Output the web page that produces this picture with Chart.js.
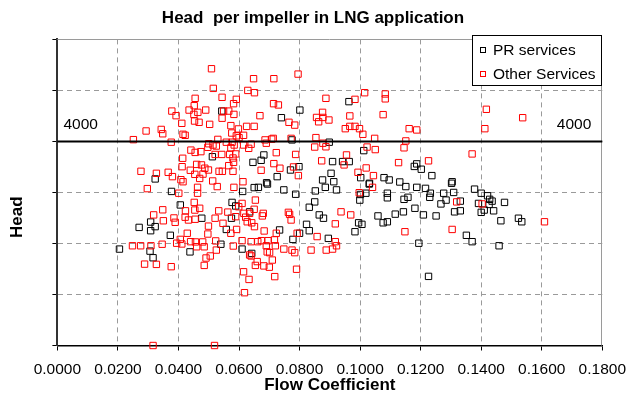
<!DOCTYPE html>
<html>
<head>
<meta charset="utf-8">
<script src="https://cdn.jsdelivr.net/npm/chart.js@4.4.0/dist/chart.umd.min.js"></script>
<style>
  html, body { margin: 0; padding: 0; background: #fff; }
  #wrap { width: 626px; height: 395px; }
</style>
</head>
<body>
<div id="wrap"><canvas id="chart" width="626" height="395"></canvas></div>
<script>
// PR services: flow coefficient / head per impeller
const prX = [
  0.0543, 0.0740, 0.0801, 0.0775, 0.0898, 0.0512, 0.0682, 0.0673, 0.0646, 0.0909,
  0.0770, 0.0798, 0.0726, 0.0323, 0.0691, 0.0876, 0.0885,
  0.0963, 0.1012, 0.0942, 0.0964, 0.0904, 0.1002, 0.0913, 0.1187, 0.1179, 0.1202,
  0.1237, 0.1079, 0.1096, 0.1131, 0.1031, 0.1304,
  0.0377, 0.0612, 0.0650, 0.0664, 0.0694, 0.0748, 0.0787, 0.0852, 0.0850, 0.0832,
  0.0865, 0.0879, 0.0406, 0.0308, 0.0323, 0.0308, 0.0270, 0.0373, 0.0477, 0.0577,
  0.0589, 0.0635, 0.0575, 0.0558, 0.0540, 0.0734, 0.0778, 0.0823, 0.0832, 0.0895,
  0.0205, 0.0306, 0.0316, 0.0438, 0.0610, 0.0642, 0.0800,
  0.0922, 0.1030, 0.1001, 0.1019, 0.0999, 0.1090, 0.1090, 0.1151, 0.1187, 0.1216,
  0.1232, 0.1230, 0.1145, 0.1158, 0.1276, 0.1284, 0.1302, 0.1309, 0.1267, 0.1181,
  0.1209, 0.1251, 0.1143, 0.1116, 0.1059, 0.1090, 0.1076, 0.0995, 0.1006, 0.0983,
  0.1194, 0.1226, 0.1378, 0.1400, 0.1421, 0.1428, 0.1436, 0.1391, 0.1426, 0.1477,
  0.1331, 0.1331, 0.1312, 0.1410, 0.1400, 0.1441, 0.1465, 0.1523, 0.1534, 0.1351,
  0.1370, 0.1459
];
const prY = [
  4595, 4465, 4615, 4030, 3985, 3700, 3735, 3630, 3590, 3605,
  3440, 3505, 3310, 3265, 3190, 3245, 3100,
  4780, 3820, 3605, 3605, 3375, 3290, 3210, 3560, 3510, 3455,
  3330, 3290, 3245, 3205, 3180, 3210,
  3020, 3020, 3095, 3100, 3165, 3050, 2965, 3030, 2815, 2710,
  2560, 2495, 2755, 2420, 2330, 2250, 2315, 2160, 2495, 2805,
  2735, 2620, 2495, 2275, 1985, 2265, 2080, 2375, 2250, 2100,
  1890, 1850, 1720, 1835, 1890, 1805, 2200,
  3050, 3165, 2960, 2985, 2850, 2985, 2895, 3115, 3100, 3080,
  2985, 2905, 2865, 2905, 2985, 2850, 3180, 3000, 2775, 2690,
  2560, 2540, 2620, 2575, 2540, 2425, 2405, 2405, 2375, 2230,
  2005, 1355, 3065, 2985, 2935, 2865, 2830, 2785, 2765, 2805,
  2830, 2640, 2620, 2655, 2610, 2640, 2445, 2495, 2425, 2160,
  2035, 1955
];

// Other services
const otherX = [
  0.0509, 0.0648, 0.0715, 0.0795, 0.0515, 0.0629, 0.0651, 0.0455, 0.0544, 0.0591,
  0.0714, 0.0730, 0.0887, 0.0452, 0.0582, 0.0378, 0.0392, 0.0435, 0.0451, 0.0464,
  0.0490, 0.0549, 0.0566, 0.0583, 0.0669, 0.0765, 0.0784, 0.0856, 0.0876, 0.0863,
  0.0897, 0.0877, 0.0411, 0.0453, 0.0468, 0.0503, 0.0544, 0.0573, 0.0598, 0.0625,
  0.0650, 0.0293, 0.0343, 0.0348, 0.0415, 0.0422, 0.0576, 0.0591, 0.0615, 0.0600,
  0.0251, 0.0376, 0.0530, 0.0500, 0.0514, 0.0525, 0.0558, 0.0577, 0.0584, 0.0615,
  0.0640, 0.0632, 0.0686, 0.0708, 0.0713, 0.0690, 0.0772, 0.0854, 0.0877, 0.0850,
  0.0887, 0.0441, 0.0455, 0.0474, 0.0497, 0.0521, 0.0543, 0.0569, 0.0589, 0.0573,
  0.0580, 0.0582, 0.0723, 0.0787, 0.0873, 0.0414, 0.0412, 0.0460, 0.0476, 0.0487,
  0.0439, 0.0454, 0.0481, 0.0499, 0.0534, 0.0545, 0.0580, 0.0566, 0.0673, 0.0715,
  0.0735, 0.0780, 0.0796, 0.0276, 0.0327, 0.0366, 0.0380, 0.0408, 0.0415, 0.0470,
  0.0513, 0.0613,
  0.1015, 0.1083, 0.1083, 0.0983, 0.0966, 0.1076, 0.1417, 0.1537, 0.1412, 0.0951,
  0.0966, 0.0983, 0.0998, 0.1009, 0.1162, 0.1187, 0.1048, 0.1151, 0.1145, 0.1023,
  0.1050, 0.0955, 0.0947, 0.1370, 0.1127, 0.1226, 0.1020, 0.0993, 0.1044,
  0.0297, 0.0463, 0.0463, 0.0528, 0.0583, 0.0401, 0.0318, 0.0348, 0.0350, 0.0385,
  0.0389, 0.0423, 0.0422, 0.0433, 0.0455, 0.0452, 0.0470, 0.0454, 0.0499, 0.0497,
  0.0429, 0.0533, 0.0521, 0.0563, 0.0547, 0.0592, 0.0573, 0.0589, 0.0610, 0.0599,
  0.0616, 0.0622, 0.0635, 0.0650, 0.0654, 0.0627, 0.0642, 0.0651, 0.0680, 0.0677,
  0.0683, 0.0763, 0.0767, 0.0772, 0.0723, 0.0792, 0.0858, 0.0248, 0.0275, 0.0309,
  0.0346, 0.0394, 0.0406, 0.0411, 0.0440, 0.0456, 0.0480, 0.0460, 0.0485, 0.0523,
  0.0525, 0.0505, 0.0491, 0.0485, 0.0581, 0.0610, 0.0640, 0.0662, 0.0674, 0.0696,
  0.0717, 0.0690, 0.0720, 0.0748, 0.0775, 0.0784, 0.0838, 0.0888, 0.0909, 0.0635,
  0.0640, 0.0693, 0.0701, 0.0710, 0.0654, 0.0660, 0.0682, 0.0700, 0.0718, 0.0615,
  0.0633, 0.0618, 0.0790, 0.0288, 0.0327, 0.0376,
  0.0997, 0.1041, 0.0937, 0.0969, 0.0918, 0.0918, 0.0922, 0.1148, 0.1304, 0.1319,
  0.1403, 0.1609,
  0.0316, 0.0519
];
const otherY = [
  5425, 5230, 5230, 5320, 5040, 5000, 4955, 4845, 4865, 4825,
  4740, 4715, 4845, 4700, 4740, 4595, 4505, 4615, 4530, 4570,
  4615, 4595, 4595, 4530, 4505, 4375, 4320, 4470, 4570, 4385,
  4420, 4470, 4355, 4400, 4375, 4335, 4455, 4310, 4245, 4295,
  4295, 4205, 4235, 4150, 4140, 4120, 4165, 4110, 4120, 4075,
  4035, 3985, 4040, 3955, 3930, 3910, 3985, 3985, 3930, 3930,
  3945, 3865, 4030, 4045, 4060, 3965, 4060, 4075, 3965, 3890,
  3895, 3830, 3785, 3800, 3885, 3745, 3745, 3745, 3755, 3875,
  3675, 3590, 3780, 3745, 3620, 3670, 3505, 3550, 3540, 3475,
  3435, 3355, 3360, 3440, 3415, 3415, 3415, 3525, 3435, 3565,
  3475, 3500, 3330, 3415, 3375, 3395, 3310, 3250, 3210, 3275,
  3225, 3210,
  4955, 4930, 4835, 4825, 4500, 4525, 4630, 4465, 4250, 4250,
  4295, 4295, 4250, 4140, 4250, 4225, 4060, 4010, 3875, 3890,
  3840, 3735, 3540, 3755, 3585, 3620, 3480, 3395, 3330,
  3075, 3100, 2985, 3115, 3100, 2985, 2560, 2660, 2445, 2500,
  2415, 2640, 2515, 2460, 2475, 2805, 2690, 2655, 2340, 2185,
  2200, 2640, 2495, 2615, 2395, 2275, 2200, 2525, 2785, 2720,
  2590, 2515, 2590, 2670, 2850, 2425, 2405, 2330, 2590, 2540,
  2245, 2610, 2570, 2460, 2200, 2200, 2135, 1955, 1955, 1955,
  1985, 2005, 2080, 1990, 2035, 2030, 2030, 1935, 1935, 2050,
  1870, 1755, 1715, 1570, 1950, 2055, 2035, 2035, 2055, 2055,
  2070, 1955, 1955, 1890, 1870, 1820, 1870, 1870, 1890, 1775,
  1755, 1835, 1820, 1675, 1570, 1645, 1560, 1535, 1350, 1445,
  1295, 1035, 1495, 1595, 1590, 1545,
  2995, 3100, 2620, 2560, 2385, 2035, 1955, 2230, 2275, 2815,
  2775, 2425,
  0, 0
];

const xMin = 0, xMax = 0.18, xStep = 0.02;
const yMin = 0, yMax = 6000, yStep = 1000;
const headLimit = 4000;
const seriesLabels = ["PR services", "Other Services"];
const seriesColors = ["#000000", "#ff0000"];
const yTitle = "Head";

const toPoints = (xs, ys) => xs.map((x, i) => ({ x: x, y: ys[i] }));

const FONT = "'Liberation Sans', Arial, sans-serif";
const gridGray = "#9a9a9a";

// solid grey top/right frame (the dashed grid stops short of these)
const framePlugin = {
  id: "frame",
  beforeDatasetsDraw(chart) {
    const { ctx, chartArea: a } = chart;
    ctx.save();
    ctx.strokeStyle = gridGray;
    ctx.lineWidth = 1;
    ctx.beginPath();
    ctx.moveTo(a.left, Math.round(a.top) + 0.5);
    ctx.lineTo(Math.round(a.right) - 0.5, Math.round(a.top) + 0.5);
    ctx.lineTo(Math.round(a.right) - 0.5, a.bottom);
    ctx.stroke();
    ctx.restore();
  }
};

// horizontal limit line with its value written at both ends
const limitPlugin = {
  id: "limitLine",
  afterDatasetsDraw(chart) {
    const { ctx, chartArea: a, scales } = chart;
    const y = scales.y.getPixelForValue(headLimit);
    ctx.save();
    ctx.strokeStyle = "#000";
    ctx.lineWidth = 2;
    ctx.beginPath();
    ctx.moveTo(a.left, y);
    ctx.lineTo(a.right, y);
    ctx.stroke();
    ctx.fillStyle = "#000";
    ctx.font = "15.5px " + FONT;
    ctx.textBaseline = "alphabetic";
    ctx.textAlign = "left";
    ctx.fillText(String(headLimit), a.left + 6, y - 12);
    ctx.textAlign = "right";
    ctx.fillText(String(headLimit), a.right - 11, y - 12);
    ctx.restore();
  }
};

// rotated y title, centred on the plot block (area + tick labels) rather than the area alone;
// the scale keeps an invisible title so its width is still reserved
const yTitlePlugin = {
  id: "yTitle",
  afterDraw(chart) {
    const { ctx, chartArea: a } = chart;
    ctx.save();
    ctx.translate(17, (a.top + chart.height) / 2);
    ctx.rotate(-Math.PI / 2);
    ctx.fillStyle = "#000";
    ctx.font = "bold 17px " + FONT;
    ctx.textAlign = "center";
    ctx.textBaseline = "middle";
    ctx.fillText(yTitle, 0, 0);
    ctx.restore();
  }
};

// boxed legend sitting over the top-right corner of the plot
const boxLegend = {
  id: "boxLegend",
  afterDraw(chart) {
    const { ctx, chartArea: a } = chart;
    const w = 130, h = 51;
    const x0 = Math.round(a.right) - w, y0 = Math.round(a.top) - 4;
    ctx.save();
    ctx.fillStyle = "#fff";
    ctx.fillRect(x0, y0, w, h);
    ctx.strokeStyle = "#000";
    ctx.lineWidth = 1;
    ctx.strokeRect(x0 + 0.5, y0 + 0.5, w - 1, h - 1);
    ctx.font = "15.5px " + FONT;
    ctx.textBaseline = "middle";
    ctx.textAlign = "left";
    chart.data.datasets.forEach((ds, i) => {
      const cy = y0 + 14.5 + i * 24.5;
      ctx.strokeStyle = ds.borderColor;
      ctx.strokeRect(x0 + 8.5, Math.round(cy) - 2.5, 5, 5);
      ctx.fillStyle = "#000";
      ctx.fillText(ds.label, x0 + 21, cy + 1);
    });
    ctx.restore();
  }
};

const markerStyle = {
  pointStyle: "rect",
  pointRadius: 4.5,
  pointHoverRadius: 4.5,
  pointBorderWidth: 1,
  backgroundColor: "rgba(0,0,0,0)",
  showLine: false,
  clip: false
};

new Chart(document.getElementById("chart"), {
  type: "scatter",
  data: {
    datasets: [
      Object.assign({
        label: seriesLabels[0],
        data: toPoints(prX, prY),
        borderColor: seriesColors[0],
        order: 1
      }, markerStyle),
      Object.assign({
        label: seriesLabels[1],
        data: toPoints(otherX, otherY),
        borderColor: seriesColors[1],
        order: 0
      }, markerStyle)
    ]
  },
  options: {
    responsive: false,
    animation: false,
    events: [],
    layout: { padding: { left: 0, right: 0, top: 0, bottom: 0 } },
    plugins: {
      legend: { display: false },
      tooltip: { enabled: false },
      title: {
        display: true,
        text: "Head  per impeller in LNG application",
        color: "#000",
        font: { family: FONT, size: 17, weight: "bold", lineHeight: 1.2 },
        padding: { top: 8, bottom: 11 }
      }
    },
    scales: {
      x: {
        type: "linear",
        min: xMin,
        max: xMax,
        grid: {
          color: (c) => (c.tick && (c.tick.value <= xMin + 1e-9 || c.tick.value >= xMax - 1e-9)) ? "rgba(0,0,0,0)" : gridGray,
          lineWidth: 1,
          tickLength: 5,
          tickColor: "#000",
          drawTicks: true
        },
        border: { display: true, color: "#000", width: 1.5, dash: [5, 4] },
        ticks: {
          stepSize: xStep,
          color: "#000",
          padding: 0,
          maxRotation: 0,
          autoSkip: false,
          // tall line box pushes the labels down without widening the side padding
          font: { family: FONT, size: 15.5, lineHeight: "39px" },
          callback: (v) => Number(v).toFixed(4)
        },
        title: {
          display: true,
          text: "Flow Coefficient",
          color: "#000",
          font: { family: FONT, size: 17, weight: "bold", lineHeight: 1 },
          padding: { top: -12.5, bottom: 1 }
        }
      },
      y: {
        type: "linear",
        min: yMin,
        max: yMax,
        grid: {
          color: (c) => (c.tick && (c.tick.value <= yMin || c.tick.value >= yMax)) ? "rgba(0,0,0,0)" : gridGray,
          lineWidth: 1,
          tickLength: 5,
          tickColor: "#000",
          drawTicks: true
        },
        border: { display: true, color: "#333", width: 2, dash: [5, 4] },
        ticks: { stepSize: yStep, display: false },
        title: {
          display: true,
          text: yTitle,
          color: "rgba(0,0,0,0)",
          font: { family: FONT, size: 17, weight: "bold", lineHeight: 1.2 },
          padding: { top: 7, bottom: 25 }
        }
      }
    }
  },
  plugins: [framePlugin, limitPlugin, yTitlePlugin, boxLegend]
});
</script>
</body>
</html>
